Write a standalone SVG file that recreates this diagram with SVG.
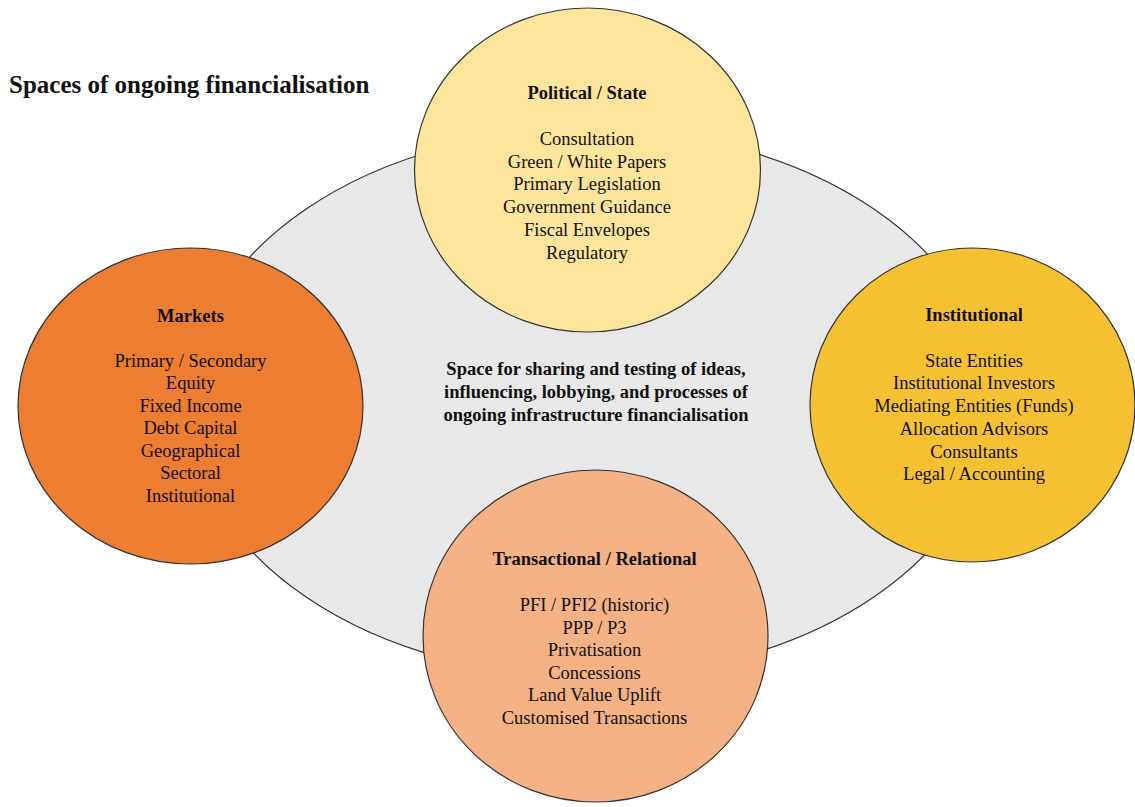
<svg xmlns="http://www.w3.org/2000/svg" width="1135" height="807" viewBox="0 0 1135 807">
<style>
.shape{stroke:#333;stroke-width:1.2}
text{font-family:"Liberation Serif","Times New Roman",serif;font-size:18.5px;fill:#111;text-anchor:middle}
.b{font-weight:bold}
.title{font-size:25px;text-anchor:start;font-weight:bold}
</style>
<rect width="1135" height="807" fill="#fff"/>
<text class="title" x="9" y="93">Spaces of ongoing financialisation</text>
<g id="space">
<ellipse class="shape" cx="590" cy="403" rx="402" ry="274" fill="#E8E8E8"/>
<text class="b" x="596" y="375">Space for sharing and testing of ideas,</text>
<text class="b" x="596" y="398">influencing, lobbying, and processes of</text>
<text class="b" x="596" y="421">ongoing infrastructure financialisation</text>
</g>
<g id="political">
<ellipse class="shape" cx="587.5" cy="170" rx="173" ry="162" fill="#FEE59B"/>
<text class="b" x="587" y="99">Political / State</text>
<text x="587" y="145">Consultation</text>
<text x="587" y="167.7">Green / White Papers</text>
<text x="587" y="190.4">Primary Legislation</text>
<text x="587" y="213.1">Government Guidance</text>
<text x="587" y="235.8">Fiscal Envelopes</text>
<text x="587" y="258.5">Regulatory</text>
</g>
<g id="markets">
<ellipse class="shape" cx="190.5" cy="406" rx="172.5" ry="158" fill="#ED7D31"/>
<text class="b" x="190.5" y="321.5">Markets</text>
<text x="190.5" y="366.7">Primary / Secondary</text>
<text x="190.5" y="389.2">Equity</text>
<text x="190.5" y="411.7">Fixed Income</text>
<text x="190.5" y="434.2">Debt Capital</text>
<text x="190.5" y="456.7">Geographical</text>
<text x="190.5" y="479.2">Sectoral</text>
<text x="190.5" y="501.7">Institutional</text>
</g>
<g id="institutional">
<ellipse class="shape" cx="972.5" cy="405" rx="162.5" ry="157" fill="#F5C132"/>
<text class="b" x="974" y="321">Institutional</text>
<text x="974" y="366.7">State Entities</text>
<text x="974" y="389.4">Institutional Investors</text>
<text x="974" y="412.1">Mediating Entities (Funds)</text>
<text x="974" y="434.8">Allocation Advisors</text>
<text x="974" y="457.5">Consultants</text>
<text x="974" y="480.2">Legal / Accounting</text>
</g>
<g id="transactional">
<ellipse class="shape" cx="595.5" cy="636" rx="172.5" ry="166" fill="#F4B183"/>
<text class="b" x="594.5" y="565">Transactional / Relational</text>
<text x="594.5" y="611">PFI / PFI2 (historic)</text>
<text x="594.5" y="633.5">PPP / P3</text>
<text x="594.5" y="656">Privatisation</text>
<text x="594.5" y="678.5">Concessions</text>
<text x="594.5" y="701">Land Value Uplift</text>
<text x="594.5" y="723.5">Customised Transactions</text>
</g>
<g id="connectors"></g>
</svg>
